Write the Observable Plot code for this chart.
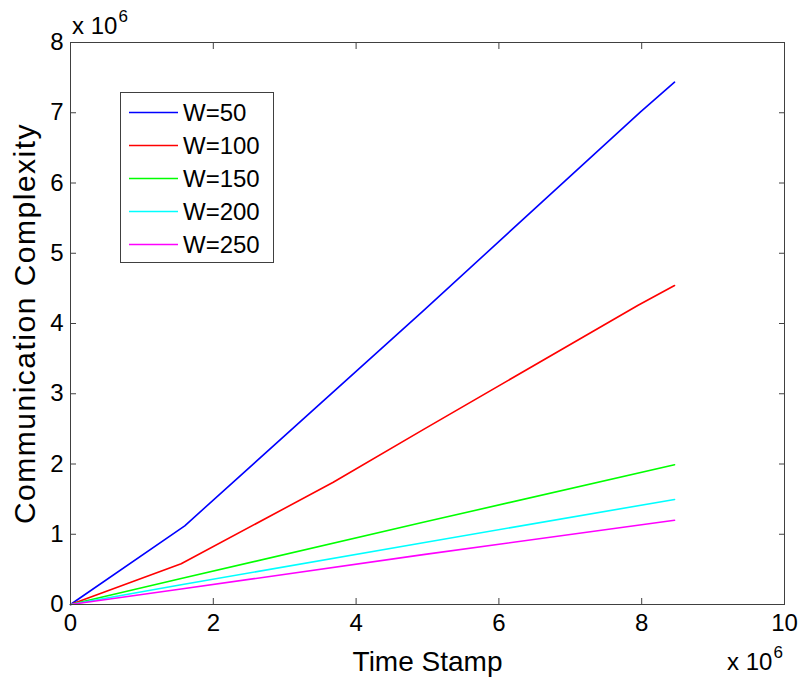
<!DOCTYPE html>
<html><head><meta charset="utf-8">
<script src="https://cdn.jsdelivr.net/npm/d3@7"></script>
<script src="https://cdn.jsdelivr.net/npm/@observablehq/plot@0.6"></script>
<style>
body{margin:0;background:#fff;font-family:Arial,"Liberation Sans",sans-serif;}
#wrap{position:relative;width:804px;height:679px;}
.exp{position:absolute;font-size:24px;line-height:24px;color:#000;white-space:nowrap;}
.exp sup{font-size:17px;vertical-align:0;position:relative;top:-12px;margin-left:1px;}
#legend{position:absolute;left:120px;top:92px;width:154px;height:171px;border:1px solid #404040;background:#fff;box-sizing:border-box;}
.lrow{position:absolute;left:0;height:30px;width:150px;}
.lrow svg{position:absolute;left:8px;top:0;}
.lrow span{position:absolute;left:62px;top:1px;font-size:24px;line-height:28px;color:#000;}
</style></head><body><div id="wrap"></div>
<script>
// Data (x in units of 1e6 time stamps, y in units of 1e6)
const seriesNames = ["W=50", "W=100", "W=150", "W=200", "W=250"];
const seriesColors = ["#0000ff", "#ff0000", "#00ff00", "#00ffff", "#ff00ff"];
const timeW50 = [0, 1.60, 4.94, 7.98, 8.46];
const commW50 = [0, 1.12, 4.18, 7.01, 7.435];
const timeW100 = [0, 1.55, 3.68, 4.94, 7.95, 8.46];
const commW100 = [0, 0.58, 1.74, 2.49, 4.26, 4.54];
const timeW150 = [0, 1.55, 4.94, 8.46];
const commW150 = [0, 0.37, 1.17, 1.99];
const timeW200 = [0, 1.55, 4.94, 8.46];
const commW200 = [0, 0.28, 0.88, 1.495];
const timeW250 = [0, 1.55, 4.94, 8.46];
const commW250 = [0, 0.22, 0.71, 1.20];
const xTicks = [0, 2, 4, 6, 8, 10];
const yTicks = [0, 1, 2, 3, 4, 5, 6, 7, 8];

const times = [timeW50, timeW100, timeW150, timeW200, timeW250];
const comms = [commW50, commW100, commW150, commW200, commW250];
const rows = [];
seriesNames.forEach((s, i) => times[i].forEach((t, j) => rows.push({series: s, t, c: comms[i][j]})));

const font = "Arial, 'Liberation Sans', sans-serif";
const chart = Plot.plot({
  width: 804, height: 679,
  marginLeft: 70, marginRight: 20, marginTop: 42, marginBottom: 75,
  x: {domain: [0, 10]},
  y: {domain: [0, 8]},
  color: {domain: seriesNames, range: seriesColors},
  style: {fontFamily: font, fontSize: "24px", color: "#000", background: "#fff"},
  marks: [
    Plot.line(rows, {x: "t", y: "c", z: "series", stroke: "series", strokeWidth: 1.6}),
    Plot.frame({stroke: "#404040", strokeWidth: 1}),
    Plot.axisX({anchor: "bottom", ticks: xTicks, tickSize: -6, tickPadding: 15, label: null, stroke: "#404040", fill: "#000"}),
    Plot.axisX({anchor: "top", ticks: xTicks, tickSize: -6, tickFormat: () => "", label: null, stroke: "#404040"}),
    Plot.axisY({anchor: "left", ticks: yTicks, tickSize: -6, tickPadding: 13, label: null, stroke: "#404040", fill: "#000"}),
    Plot.axisY({anchor: "right", ticks: yTicks, tickSize: -6, tickFormat: () => "", label: null, stroke: "#404040"}),
    Plot.text(["Time Stamp"], {frameAnchor: "bottom", lineAnchor: "bottom", textAnchor: "middle", dy: 66, fontSize: 28, fill: "#000"}),
    Plot.text(["Communication Complexity"], {frameAnchor: "left", textAnchor: "middle", lineAnchor: "bottom", dx: -36, rotate: -90, fontSize: 30, fill: "#000", className: "ylab"})
  ]
});
const wrap = document.getElementById("wrap");
wrap.appendChild(chart);
d3.select(chart).selectAll(".ylab text").style("letter-spacing", "1.5px");

function addExp(left, top) {
  const d = document.createElement("div");
  d.className = "exp";
  d.style.left = left + "px"; d.style.top = top + "px";
  d.innerHTML = "x 10<sup>6</sup>";
  wrap.appendChild(d);
}
addExp(72, 14);
addExp(727, 650);

const leg = document.createElement("div");
leg.id = "legend";
seriesNames.forEach((s, i) => {
  const r = document.createElement("div");
  r.className = "lrow";
  r.style.top = (5 + i * 33) + "px";
  r.innerHTML = `<svg width="50" height="30"><line x1="0" x2="49" y1="14.5" y2="14.5" stroke="${seriesColors[i]}" stroke-width="1.6"/></svg><span>${s}</span>`;
  leg.appendChild(r);
});
wrap.appendChild(leg);
</script>
</body></html>
